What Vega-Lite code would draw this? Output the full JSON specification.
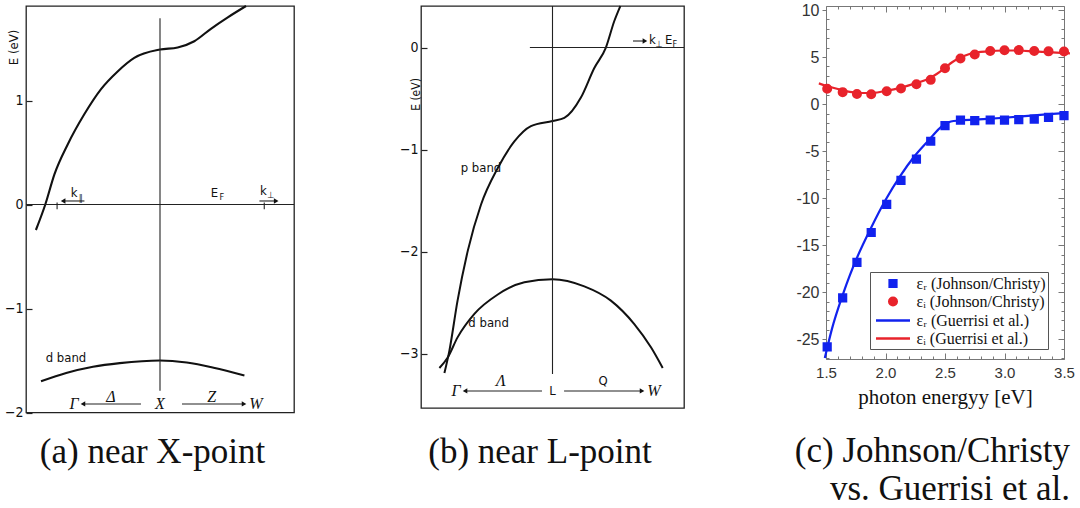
{
  "$schema": "https://vega.github.io/schema/vega-lite/v6.json",
  "background": "white",
  "padding": {"left": 3, "top": 1, "right": 0, "bottom": 0},
  "config": {
    "view": {"stroke": "#222", "strokeWidth": 1.3},
    "axis": {"domain": false, "grid": false},
    "title": {"font": "Liberation Serif", "fontSize": 35, "fontWeight": "normal", "color": "#111"}
  },
  "datasets": {
    "bandA": [
      {"k": 0.037, "E": -0.245, "band": "sp"}, {"k": 0.072, "E": 0.0, "band": "sp"}, {"k": 0.106, "E": 0.29, "band": "sp"},
      {"k": 0.156, "E": 0.58, "band": "sp"}, {"k": 0.218, "E": 0.87, "band": "sp"}, {"k": 0.28, "E": 1.11, "band": "sp"},
      {"k": 0.342, "E": 1.28, "band": "sp"}, {"k": 0.404, "E": 1.41, "band": "sp"}, {"k": 0.5, "E": 1.49, "band": "sp"},
      {"k": 0.566, "E": 1.51, "band": "sp"}, {"k": 0.628, "E": 1.57, "band": "sp"}, {"k": 0.69, "E": 1.69, "band": "sp"},
      {"k": 0.753, "E": 1.8, "band": "sp"}, {"k": 0.821, "E": 1.909, "band": "sp"},
      {"k": 0.056, "E": -1.7, "band": "d"}, {"k": 0.15, "E": -1.62, "band": "d"}, {"k": 0.25, "E": -1.56, "band": "d"},
      {"k": 0.35, "E": -1.525, "band": "d"}, {"k": 0.5, "E": -1.5, "band": "d"}, {"k": 0.6, "E": -1.52, "band": "d"},
      {"k": 0.7, "E": -1.57, "band": "d"}, {"k": 0.815, "E": -1.645, "band": "d"}
    ],
    "linesA": [
      {"k": 0.5, "k2": 0.5, "E": -1.79, "E2": 1.79},
      {"k": 0.0, "k2": 1.0, "E": 0.0, "E2": 0.0},
      {"k": 0.116, "k2": 0.116, "E": -0.045, "E2": 0.02},
      {"k": 0.889, "k2": 0.889, "E": -0.045, "E2": 0.02},
      {"k": 0.218, "k2": 0.1385, "E": 0.034, "E2": 0.034},
      {"k": 0.871, "k2": 0.9335, "E": 0.034, "E2": 0.034},
      {"k": 0.429, "k2": 0.2125, "E": -1.918, "E2": -1.918},
      {"k": 0.582, "k2": 0.8135, "E": -1.918, "E2": -1.918}
    ],
    "headsA": [
      {"k": 0.1385, "E": 0.034, "dir": "left"},
      {"k": 0.9335, "E": 0.034, "dir": "right"},
      {"k": 0.2125, "E": -1.918, "dir": "left"},
      {"k": 0.8135, "E": -1.918, "dir": "right"}
    ],
    "greekA": [
      {"k": 0.179, "E": -1.918, "label": "Γ"}, {"k": 0.317, "E": -1.85, "label": "Δ"},
      {"k": 0.5, "E": -1.918, "label": "X"}, {"k": 0.693, "E": -1.85, "label": "Z"},
      {"k": 0.858, "E": -1.918, "label": "W"}
    ],
    "sansA": [
      {"k": 0.149, "E": -1.48, "label": "d band"},
      {"k": 0.18, "E": 0.11, "label": "k"},
      {"k": 0.703, "E": 0.11, "label": "E"},
      {"k": 0.886, "E": 0.13, "label": "k"}
    ],
    "subA": [
      {"k": 0.204, "E": 0.065, "label": "∥"},
      {"k": 0.731, "E": 0.075, "label": "F"},
      {"k": 0.912, "E": 0.095, "label": "⊥"}
    ],
    "bandB": [
      {"k": 0.089, "E": -3.19, "band": "p"}, {"k": 0.108, "E": -2.97, "band": "p"}, {"k": 0.139, "E": -2.48, "band": "p"},
      {"k": 0.178, "E": -1.99, "band": "p"}, {"k": 0.228, "E": -1.54, "band": "p"}, {"k": 0.292, "E": -1.18, "band": "p"},
      {"k": 0.355, "E": -0.92, "band": "p"}, {"k": 0.418, "E": -0.77, "band": "p"}, {"k": 0.5, "E": -0.72, "band": "p"},
      {"k": 0.545, "E": -0.69, "band": "p"}, {"k": 0.608, "E": -0.49, "band": "p"}, {"k": 0.659, "E": -0.2, "band": "p"},
      {"k": 0.703, "E": 0.0, "band": "p"}, {"k": 0.735, "E": 0.26, "band": "p"}, {"k": 0.758, "E": 0.407, "band": "p"},
      {"k": 0.07, "E": -3.14, "band": "d"}, {"k": 0.101, "E": -3.04, "band": "d"}, {"k": 0.139, "E": -2.84, "band": "d"},
      {"k": 0.203, "E": -2.61, "band": "d"}, {"k": 0.292, "E": -2.42, "band": "d"}, {"k": 0.393, "E": -2.3, "band": "d"},
      {"k": 0.5, "E": -2.27, "band": "d"}, {"k": 0.621, "E": -2.34, "band": "d"}, {"k": 0.722, "E": -2.48, "band": "d"},
      {"k": 0.811, "E": -2.71, "band": "d"}, {"k": 0.875, "E": -2.94, "band": "d"}, {"k": 0.919, "E": -3.14, "band": "d"}
    ],
    "linesB": [
      {"k": 0.5, "k2": 0.5, "E": -3.2, "E2": 0.407},
      {"k": 0.414, "k2": 1.0, "E": 0.0, "E2": 0.0},
      {"k": 0.806, "k2": 0.8515, "E": 0.064, "E2": 0.064},
      {"k": 0.46, "k2": 0.1675, "E": -3.365, "E2": -3.365},
      {"k": 0.544, "k2": 0.8405, "E": -3.365, "E2": -3.365}
    ],
    "headsB": [
      {"k": 0.8515, "E": 0.064, "dir": "right"},
      {"k": 0.1675, "E": -3.365, "dir": "left"},
      {"k": 0.8405, "E": -3.365, "dir": "right"}
    ],
    "greekB": [
      {"k": 0.133, "E": -3.365, "label": "Γ"}, {"k": 0.304, "E": -3.267, "label": "Λ"},
      {"k": 0.886, "E": -3.365, "label": "W"}
    ],
    "sansB": [
      {"k": 0.5, "E": -3.365, "label": "L"},
      {"k": 0.692, "E": -3.267, "label": "Q"},
      {"k": 0.228, "E": -1.18, "label": "p band"},
      {"k": 0.257, "E": -2.7, "label": "d band"},
      {"k": 0.88, "E": 0.07, "label": "k"},
      {"k": 0.942, "E": 0.07, "label": "E"}
    ],
    "subB": [
      {"k": 0.904, "E": 0.03, "label": "⊥"},
      {"k": 0.965, "E": 0.03, "label": "F"}
    ],
    "johnsonChristy": [
      {"eV": 1.51, "eps": -25.81, "series": "εᵣ (Johnson/Christy)"},
      {"eV": 1.64, "eps": -20.61, "series": "εᵣ (Johnson/Christy)"},
      {"eV": 1.76, "eps": -16.82, "series": "εᵣ (Johnson/Christy)"},
      {"eV": 1.88, "eps": -13.65, "series": "εᵣ (Johnson/Christy)"},
      {"eV": 2.01, "eps": -10.66, "series": "εᵣ (Johnson/Christy)"},
      {"eV": 2.13, "eps": -8.11, "series": "εᵣ (Johnson/Christy)"},
      {"eV": 2.26, "eps": -5.84, "series": "εᵣ (Johnson/Christy)"},
      {"eV": 2.38, "eps": -3.95, "series": "εᵣ (Johnson/Christy)"},
      {"eV": 2.5, "eps": -2.28, "series": "εᵣ (Johnson/Christy)"},
      {"eV": 2.63, "eps": -1.7, "series": "εᵣ (Johnson/Christy)"},
      {"eV": 2.75, "eps": -1.76, "series": "εᵣ (Johnson/Christy)"},
      {"eV": 2.88, "eps": -1.69, "series": "εᵣ (Johnson/Christy)"},
      {"eV": 3.0, "eps": -1.7, "series": "εᵣ (Johnson/Christy)"},
      {"eV": 3.12, "eps": -1.65, "series": "εᵣ (Johnson/Christy)"},
      {"eV": 3.25, "eps": -1.6, "series": "εᵣ (Johnson/Christy)"},
      {"eV": 3.37, "eps": -1.4, "series": "εᵣ (Johnson/Christy)"},
      {"eV": 3.5, "eps": -1.23, "series": "εᵣ (Johnson/Christy)"},
      {"eV": 1.51, "eps": 1.63, "series": "εᵢ (Johnson/Christy)"},
      {"eV": 1.64, "eps": 1.27, "series": "εᵢ (Johnson/Christy)"},
      {"eV": 1.76, "eps": 1.07, "series": "εᵢ (Johnson/Christy)"},
      {"eV": 1.88, "eps": 1.04, "series": "εᵢ (Johnson/Christy)"},
      {"eV": 2.01, "eps": 1.37, "series": "εᵢ (Johnson/Christy)"},
      {"eV": 2.13, "eps": 1.66, "series": "εᵢ (Johnson/Christy)"},
      {"eV": 2.26, "eps": 2.11, "series": "εᵢ (Johnson/Christy)"},
      {"eV": 2.38, "eps": 2.58, "series": "εᵢ (Johnson/Christy)"},
      {"eV": 2.5, "eps": 3.81, "series": "εᵢ (Johnson/Christy)"},
      {"eV": 2.63, "eps": 4.84, "series": "εᵢ (Johnson/Christy)"},
      {"eV": 2.75, "eps": 5.28, "series": "εᵢ (Johnson/Christy)"},
      {"eV": 2.88, "eps": 5.65, "series": "εᵢ (Johnson/Christy)"},
      {"eV": 3.0, "eps": 5.72, "series": "εᵢ (Johnson/Christy)"},
      {"eV": 3.12, "eps": 5.74, "series": "εᵢ (Johnson/Christy)"},
      {"eV": 3.25, "eps": 5.64, "series": "εᵢ (Johnson/Christy)"},
      {"eV": 3.37, "eps": 5.61, "series": "εᵢ (Johnson/Christy)"},
      {"eV": 3.5, "eps": 5.6, "series": "εᵢ (Johnson/Christy)"}
    ],
    "guerrisi": [
      {"eV": 1.49, "eps": -27.0, "series": "εᵣ (Guerrisi et al.)"},
      {"eV": 1.55, "eps": -23.9, "series": "εᵣ (Guerrisi et al.)"},
      {"eV": 1.64, "eps": -20.3, "series": "εᵣ (Guerrisi et al.)"},
      {"eV": 1.7, "eps": -18.2, "series": "εᵣ (Guerrisi et al.)"},
      {"eV": 1.765, "eps": -16.2, "series": "εᵣ (Guerrisi et al.)"},
      {"eV": 1.877, "eps": -13.2, "series": "εᵣ (Guerrisi et al.)"},
      {"eV": 2.0, "eps": -10.2, "series": "εᵣ (Guerrisi et al.)"},
      {"eV": 2.126, "eps": -7.6, "series": "εᵣ (Guerrisi et al.)"},
      {"eV": 2.24, "eps": -5.6, "series": "εᵣ (Guerrisi et al.)"},
      {"eV": 2.37, "eps": -3.75, "series": "εᵣ (Guerrisi et al.)"},
      {"eV": 2.47, "eps": -2.4, "series": "εᵣ (Guerrisi et al.)"},
      {"eV": 2.51, "eps": -2.05, "series": "εᵣ (Guerrisi et al.)"},
      {"eV": 2.55, "eps": -1.85, "series": "εᵣ (Guerrisi et al.)"},
      {"eV": 2.62, "eps": -1.75, "series": "εᵣ (Guerrisi et al.)"},
      {"eV": 2.75, "eps": -1.65, "series": "εᵣ (Guerrisi et al.)"},
      {"eV": 3.0, "eps": -1.45, "series": "εᵣ (Guerrisi et al.)"},
      {"eV": 3.25, "eps": -1.2, "series": "εᵣ (Guerrisi et al.)"},
      {"eV": 3.5, "eps": -0.95, "series": "εᵣ (Guerrisi et al.)"},
      {"eV": 1.44, "eps": 2.2, "series": "εᵢ (Guerrisi et al.)"},
      {"eV": 1.5, "eps": 1.95, "series": "εᵢ (Guerrisi et al.)"},
      {"eV": 1.6, "eps": 1.6, "series": "εᵢ (Guerrisi et al.)"},
      {"eV": 1.7, "eps": 1.3, "series": "εᵢ (Guerrisi et al.)"},
      {"eV": 1.8, "eps": 1.18, "series": "εᵢ (Guerrisi et al.)"},
      {"eV": 1.9, "eps": 1.2, "series": "εᵢ (Guerrisi et al.)"},
      {"eV": 2.0, "eps": 1.4, "series": "εᵢ (Guerrisi et al.)"},
      {"eV": 2.13, "eps": 1.75, "series": "εᵢ (Guerrisi et al.)"},
      {"eV": 2.25, "eps": 2.2, "series": "εᵢ (Guerrisi et al.)"},
      {"eV": 2.37, "eps": 2.75, "series": "εᵢ (Guerrisi et al.)"},
      {"eV": 2.43, "eps": 3.2, "series": "εᵢ (Guerrisi et al.)"},
      {"eV": 2.5, "eps": 3.85, "series": "εᵢ (Guerrisi et al.)"},
      {"eV": 2.56, "eps": 4.45, "series": "εᵢ (Guerrisi et al.)"},
      {"eV": 2.63, "eps": 4.95, "series": "εᵢ (Guerrisi et al.)"},
      {"eV": 2.7, "eps": 5.3, "series": "εᵢ (Guerrisi et al.)"},
      {"eV": 2.8, "eps": 5.55, "series": "εᵢ (Guerrisi et al.)"},
      {"eV": 2.9, "eps": 5.65, "series": "εᵢ (Guerrisi et al.)"},
      {"eV": 3.0, "eps": 5.7, "series": "εᵢ (Guerrisi et al.)"},
      {"eV": 3.12, "eps": 5.7, "series": "εᵢ (Guerrisi et al.)"},
      {"eV": 3.25, "eps": 5.6, "series": "εᵢ (Guerrisi et al.)"},
      {"eV": 3.4, "eps": 5.5, "series": "εᵢ (Guerrisi et al.)"},
      {"eV": 3.55, "eps": 5.4, "series": "εᵢ (Guerrisi et al.)"}
    ]
  },
  "spacing": 127,
  "bounds": "flush",
  "hconcat": [
    {
      "width": 268,
      "height": 406.5,
      "title": {"text": "(a) near X-point", "orient": "bottom", "anchor": "middle", "frame": "group", "offset": 15, "dx": -7.5},
      "encoding": {
        "x": {"field": "k", "type": "quantitative", "scale": {"domain": [0, 1]}, "axis": null},
        "y": {
          "field": "E", "type": "quantitative",
          "scale": {"domain": [-2, 1.909], "nice": false, "zero": false},
          "axis": {
            "values": [-2, -1, 0, 1], "tickSize": -6, "tickColor": "#222", "tickWidth": 1.2,
            "labelFont": "Liberation Sans Narrow, DejaVu Sans Condensed, Liberation Sans", "labelFontSize": 14, "labelColor": "#111", "labelPadding": 9,
            "title": "E (eV)", "titleFont": "Liberation Sans Narrow, DejaVu Sans Condensed, Liberation Sans", "titleFontSize": 13, "titleFontWeight": "normal", "titleColor": "#111",
            "titleX": -13, "titleY": 41, "titleAlign": "center", "titleBaseline": "middle"
          }
        }
      },
      "layer": [
        {"data": {"name": "bandA"}, "mark": {"type": "line", "interpolate": "monotone", "stroke": "#111", "strokeWidth": 2.1}, "encoding": {"detail": {"field": "band"}}},
        {"data": {"name": "linesA"}, "mark": {"type": "rule", "stroke": "#222", "strokeWidth": 1.1}, "encoding": {"x2": {"field": "k2"}, "y2": {"field": "E2"}}},
        {"data": {"name": "headsA"}, "transform": [{"filter": "datum.dir === 'left'"}], "mark": {"type": "point", "shape": "triangle-left", "filled": true, "color": "#111", "size": 28, "opacity": 1}},
        {"data": {"name": "headsA"}, "transform": [{"filter": "datum.dir === 'right'"}], "mark": {"type": "point", "shape": "triangle-right", "filled": true, "color": "#111", "size": 28, "opacity": 1}},
        {"data": {"name": "greekA"}, "mark": {"type": "text", "font": "Liberation Serif", "fontStyle": "italic", "fontSize": 16, "color": "#111", "baseline": "middle"}, "encoding": {"text": {"field": "label"}}},
        {"data": {"name": "sansA"}, "mark": {"type": "text", "font": "Liberation Sans Narrow, DejaVu Sans Condensed, Liberation Sans", "fontSize": 13, "color": "#111", "baseline": "middle"}, "encoding": {"text": {"field": "label"}}},
        {"data": {"name": "subA"}, "mark": {"type": "text", "font": "Liberation Sans Narrow, DejaVu Sans Condensed, Liberation Sans", "fontSize": 9, "color": "#111", "baseline": "middle"}, "encoding": {"text": {"field": "label"}}}
      ]
    },
    {
      "spacing": 142,
      "bounds": "flush",
      "hconcat": [
        {
          "width": 263,
          "height": 402,
          "title": {"text": "(b) near L-point", "orient": "bottom", "anchor": "middle", "frame": "group", "offset": 27, "dx": -12.5},
          "encoding": {
            "x": {"field": "k", "type": "quantitative", "scale": {"domain": [0, 1]}, "axis": null},
            "y": {
              "field": "E", "type": "quantitative",
              "scale": {"domain": [-3.532, 0.407], "nice": false, "zero": false},
              "axis": {
                "values": [-3, -2, -1, 0], "tickSize": -6, "tickColor": "#222", "tickWidth": 1.2,
                "labelFont": "Liberation Sans Narrow, DejaVu Sans Condensed, Liberation Sans", "labelFontSize": 14, "labelColor": "#111", "labelPadding": 9,
                "title": "E (eV)", "titleFont": "Liberation Sans Narrow, DejaVu Sans Condensed, Liberation Sans", "titleFontSize": 12, "titleFontWeight": "normal", "titleColor": "#111",
                "titleX": -6, "titleY": 88, "titleAlign": "center", "titleBaseline": "middle"
              }
            }
          },
          "layer": [
            {"data": {"name": "bandB"}, "mark": {"type": "line", "interpolate": "monotone", "stroke": "#111", "strokeWidth": 2.0}, "encoding": {"detail": {"field": "band"}}},
            {"data": {"name": "linesB"}, "mark": {"type": "rule", "stroke": "#222", "strokeWidth": 1.1}, "encoding": {"x2": {"field": "k2"}, "y2": {"field": "E2"}}},
            {"data": {"name": "headsB"}, "transform": [{"filter": "datum.dir === 'left'"}], "mark": {"type": "point", "shape": "triangle-left", "filled": true, "color": "#111", "size": 28, "opacity": 1}},
            {"data": {"name": "headsB"}, "transform": [{"filter": "datum.dir === 'right'"}], "mark": {"type": "point", "shape": "triangle-right", "filled": true, "color": "#111", "size": 28, "opacity": 1}},
            {"data": {"name": "greekB"}, "mark": {"type": "text", "font": "Liberation Serif", "fontStyle": "italic", "fontSize": 16, "color": "#111", "baseline": "middle"}, "encoding": {"text": {"field": "label"}}},
            {"data": {"name": "sansB"}, "mark": {"type": "text", "font": "Liberation Sans Narrow, DejaVu Sans Condensed, Liberation Sans", "fontSize": 13, "color": "#111", "baseline": "middle"}, "encoding": {"text": {"field": "label"}}},
            {"data": {"name": "subB"}, "mark": {"type": "text", "font": "Liberation Sans Narrow, DejaVu Sans Condensed, Liberation Sans", "fontSize": 9, "color": "#111", "baseline": "middle"}, "encoding": {"text": {"field": "label"}}}
          ]
        },
        {
          "width": 238,
          "height": 353,
          "view": {"stroke": "#777", "strokeWidth": 1},
          "title": {"text": ["(c) Johnson/Christy", "vs. Guerrisi et al."], "orient": "bottom", "anchor": "end", "align": "right", "frame": "group", "offset": 27, "dx": 6, "lineHeight": 38},
          "resolve": {"axis": {"x": "independent", "y": "independent"}},
          "layer": [
            {
              "data": {"name": "guerrisi"},
              "mark": {"type": "line", "interpolate": "monotone", "strokeWidth": 2.2},
              "encoding": {
                "x": {"field": "eV", "type": "quantitative", "scale": {"domain": [1.5, 3.5], "nice": false, "zero": false},
                  "axis": {"orient": "top", "title": null, "labels": false, "values": [1.5,1.6,1.7,1.8,1.9,2.0,2.1,2.2,2.3,2.4,2.5,2.6,2.7,2.8,2.9,3.0,3.1,3.2,3.3,3.4,3.5],
                    "tickColor": "#777", "tickWidth": 1,
                    "tickSize": {"condition": {"test": "abs(datum.value * 2 - round(datum.value * 2)) < 0.001", "value": -6}, "value": -3}}},
                "y": {"field": "eps", "type": "quantitative", "scale": {"domain": [-27.1, 10.43], "nice": false, "zero": false},
                  "axis": {"orient": "right", "title": null, "labels": false, "values": [-27,-26,-25,-24,-23,-22,-21,-20,-19,-18,-17,-16,-15,-14,-13,-12,-11,-10,-9,-8,-7,-6,-5,-4,-3,-2,-1,0,1,2,3,4,5,6,7,8,9,10],
                    "tickColor": "#777", "tickWidth": 1,
                    "tickSize": {"condition": {"test": "datum.value % 5 === 0", "value": -6}, "value": -3}}},
                "stroke": {
                  "field": "series", "type": "nominal",
                  "scale": {"domain": ["εᵣ (Johnson/Christy)", "εᵢ (Johnson/Christy)", "εᵣ (Guerrisi et al.)", "εᵢ (Guerrisi et al.)"], "range": ["#1122ee", "#e8232b", "#1122ee", "#e8232b"]},
                  "legend": {"orient": "none", "legendX": 844, "legendY": 266, "title": null, "padding": 2, "strokeColor": "#555", "fillColor": "white",
                    "labelFont": "Liberation Serif", "labelFontSize": 16, "labelColor": "#111", "labelLimit": 300,
                    "symbolSize": 256, "symbolStrokeWidth": 2.5, "symbolOffset": 11.5, "labelOffset": 14, "rowPadding": 0}
                }
              }
            },
            {
              "data": {"name": "johnsonChristy"},
              "mark": {"type": "point", "filled": true, "size": 256, "strokeWidth": 2.5, "opacity": 1},
              "encoding": {
                "x": {"field": "eV", "type": "quantitative", "scale": {"domain": [1.5, 3.5], "nice": false, "zero": false},
                  "axis": {"orient": "bottom", "values": [1.5,1.6,1.7,1.8,1.9,2.0,2.1,2.2,2.3,2.4,2.5,2.6,2.7,2.8,2.9,3.0,3.1,3.2,3.3,3.4,3.5],
                    "labelExpr": "abs(datum.value * 2 - round(datum.value * 2)) < 0.001 ? format(datum.value, '.1f') : ''",
                    "labelFont": "Liberation Sans", "labelFontSize": 15, "labelColor": "#333", "labelPadding": 12, "labelFlush": false,
                    "tickColor": "#777", "tickWidth": 1,
                    "tickSize": {"condition": {"test": "abs(datum.value * 2 - round(datum.value * 2)) < 0.001", "value": -6}, "value": -3},
                    "title": "photon energyy [eV]", "titleFont": "Liberation Serif", "titleFontSize": 21, "titleFontWeight": "normal", "titleColor": "#111", "titlePadding": 6}},
                "y": {"field": "eps", "type": "quantitative", "scale": {"domain": [-27.1, 10.43], "nice": false, "zero": false},
                  "axis": {"orient": "left", "title": null, "values": [-27,-26,-25,-24,-23,-22,-21,-20,-19,-18,-17,-16,-15,-14,-13,-12,-11,-10,-9,-8,-7,-6,-5,-4,-3,-2,-1,0,1,2,3,4,5,6,7,8,9,10],
                    "labelExpr": "datum.value % 5 === 0 ? replace(datum.label, '−', '-') : ''",
                    "labelFont": "Liberation Sans", "labelFontSize": 16, "labelColor": "#333", "labelPadding": 3,
                    "tickColor": "#777", "tickWidth": 1,
                    "tickSize": {"condition": {"test": "datum.value % 5 === 0", "value": 4}, "value": -3}}},
                "fill": {
                  "field": "series", "type": "nominal",
                  "scale": {"domain": ["εᵣ (Johnson/Christy)", "εᵢ (Johnson/Christy)", "εᵣ (Guerrisi et al.)", "εᵢ (Guerrisi et al.)"], "range": ["#1122ee", "#e8232b", "#1122ee", "#e8232b"]},
                  "legend": {"orient": "none", "legendX": 844, "legendY": 266, "title": null, "padding": 2, "strokeColor": "#555", "fillColor": "white",
                    "labelFont": "Liberation Serif", "labelFontSize": 16, "labelColor": "#111", "labelLimit": 300,
                    "symbolSize": 256, "symbolStrokeWidth": 2.5, "symbolOffset": 11.5, "labelOffset": 14, "rowPadding": 0}
                },
                "stroke": {
                  "field": "series", "type": "nominal",
                  "scale": {"domain": ["εᵣ (Johnson/Christy)", "εᵢ (Johnson/Christy)", "εᵣ (Guerrisi et al.)", "εᵢ (Guerrisi et al.)"], "range": ["#1122ee", "#e8232b", "#1122ee", "#e8232b"]},
                  "legend": {"orient": "none", "legendX": 844, "legendY": 266, "title": null, "padding": 2, "strokeColor": "#555", "fillColor": "white",
                    "labelFont": "Liberation Serif", "labelFontSize": 16, "labelColor": "#111", "labelLimit": 300,
                    "symbolSize": 256, "symbolStrokeWidth": 2.5, "symbolOffset": 11.5, "labelOffset": 14, "rowPadding": 0}
                },
                "shape": {
                  "field": "series", "type": "nominal",
                  "scale": {"domain": ["εᵣ (Johnson/Christy)", "εᵢ (Johnson/Christy)", "εᵣ (Guerrisi et al.)", "εᵢ (Guerrisi et al.)"],
                    "range": ["M-0.42,-0.42H0.42V0.42H-0.42Z", "M-0.47,0A0.47,0.47,0,1,1,0.47,0A0.47,0.47,0,1,1,-0.47,0Z", "M-2.125,0H2.125", "M-2.125,0H2.125"]},
                  "legend": {"orient": "none", "legendX": 844, "legendY": 266, "title": null, "padding": 2, "strokeColor": "#555", "fillColor": "white",
                    "labelFont": "Liberation Serif", "labelFontSize": 16, "labelColor": "#111", "labelLimit": 300,
                    "symbolSize": 256, "symbolStrokeWidth": 2.5, "symbolOffset": 11.5, "labelOffset": 14, "rowPadding": 0}
                }
              }
            }
          ]
        }
      ]
    }
  ]
}
